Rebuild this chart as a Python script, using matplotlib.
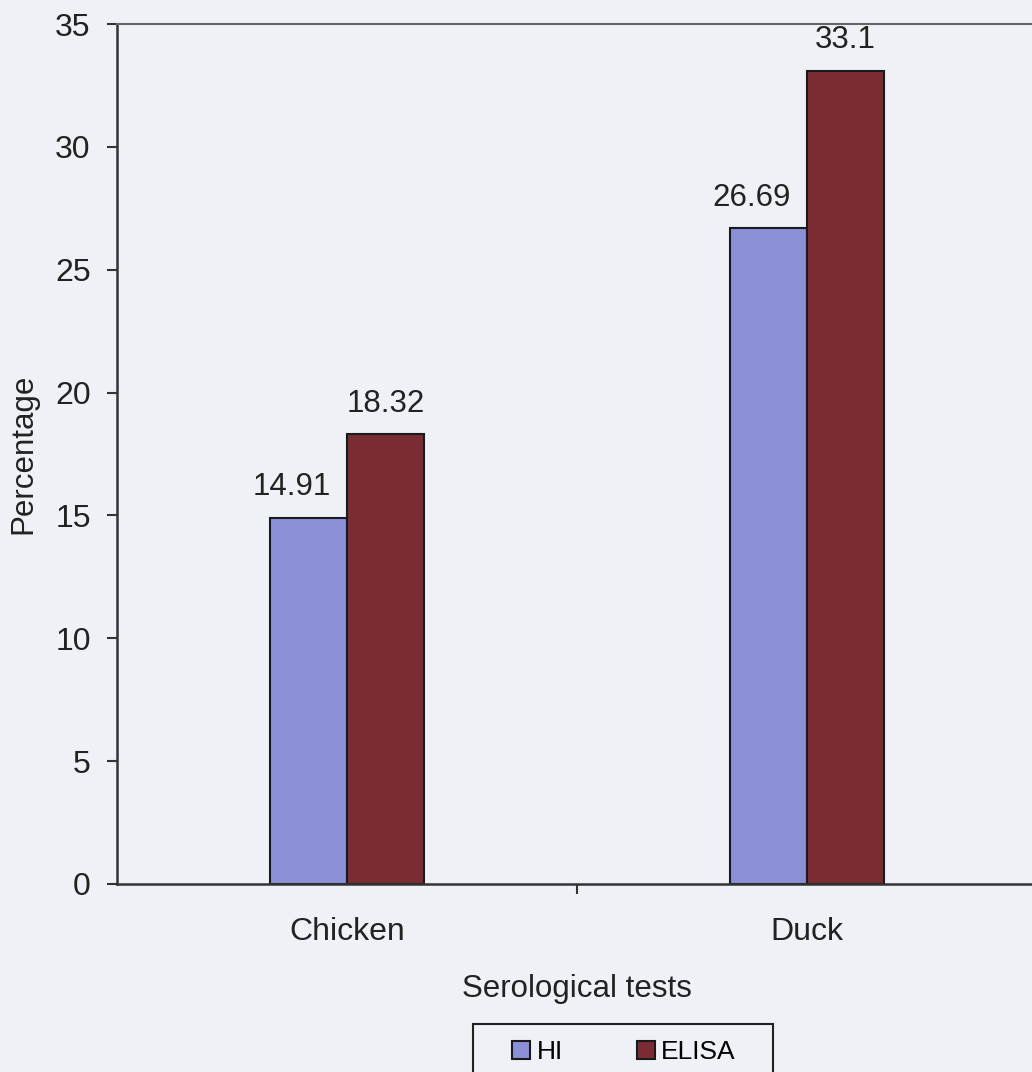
import numpy as np
import matplotlib.pyplot as plt
from matplotlib.patches import Rectangle

plt.rcParams['font.family'] = ['Liberation Sans', 'DejaVu Sans']

categories = ['Chicken', 'Duck']
hi_values = [14.91, 26.69]
elisa_values = [18.32, 33.1]
hi_labels = ['14.91', '26.69']
elisa_labels = ['18.32', '33.1']

bg = '#eef1f5'
txt = '#222222'
fig = plt.figure(figsize=(10.32, 10.72), dpi=100, facecolor=bg)
ax = fig.add_axes([0.1134, 0.1754, 0.8915, 0.8022])
ax.set_facecolor(bg)

x = np.arange(len(categories))
w = 0.167
b1 = ax.bar(x - w / 2, hi_values, w, color='#8a8fd6', edgecolor='#1a1a1a', linewidth=1.5, label='HI')
b2 = ax.bar(x + w / 2, elisa_values, w, color='#7b2c33', edgecolor='#1a1a1a', linewidth=1.5, label='ELISA')

# value labels above each bar (HI labels sit a little to the left)
for bars, labels, dx in ((b1, hi_labels, -12), (b2, elisa_labels, 0)):
    for bar, lab in zip(bars, labels):
        ax.annotate(lab, (bar.get_x() + bar.get_width() / 2, bar.get_height()),
                    xytext=(dx, 16), textcoords='offset points', ha='center', va='baseline',
                    fontsize=22.5, color=txt)

ax.set_xlim(-0.5, 1.5)
ax.set_ylim(0, 35)
ax.set_yticks(np.arange(0, 36, 5))
ax.set_xticks(x)
ax.set_xticklabels(categories)
ax.set_xticks([0.5], minor=True)
ax.tick_params(axis='x', which='major', length=0, pad=24, labelsize=23, labelcolor=txt)
ax.tick_params(axis='x', which='minor', length=7, width=1.5, direction='out', color='#333333')
ax.tick_params(axis='y', length=7, width=1.5, direction='out', pad=12, labelsize=23,
               labelcolor=txt, color='#333333')

for side in ('left', 'bottom'):
    ax.spines[side].set_color('#333333')
    ax.spines[side].set_linewidth(1.8)
ax.spines['top'].set_color('#666666')
ax.spines['top'].set_linewidth(1.5)
ax.spines['right'].set_visible(False)

ax.set_xlabel('Serological tests', fontsize=22.5, labelpad=19, color=txt)
ax.set_ylabel('Percentage', fontsize=22.5, labelpad=12, color=txt)

# legend box below the chart, running off the bottom edge
fig.patches.append(Rectangle((473 / 1032, -0.02), 300 / 1032, 0.02 + 48 / 1072, transform=fig.transFigure,
                             facecolor='none', edgecolor='#222222', linewidth=1.5))
fig.legend(handles=[b1, b2], loc='upper center', bbox_to_anchor=(624 / 1032, 1 - 1040 / 1072),
           ncol=2, fontsize=19, frameon=False, handlelength=0.68, handleheight=0.68,
           handletextpad=0.25, columnspacing=2.8, borderpad=0, borderaxespad=0)

fig.savefig('out.png', dpi=100, facecolor=bg)
